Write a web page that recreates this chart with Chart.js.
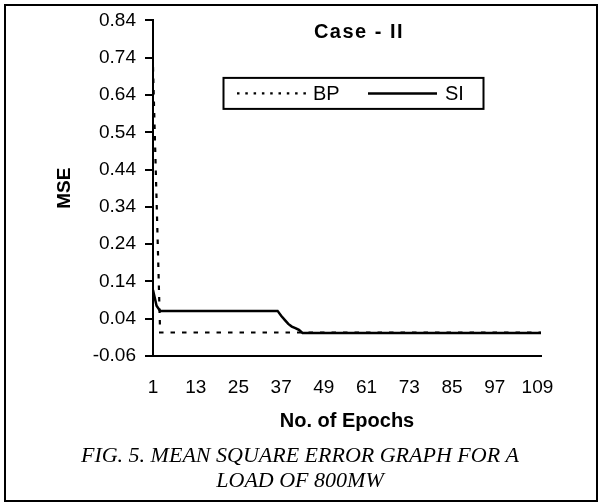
<!DOCTYPE html>
<html>
<head>
<meta charset="utf-8">
<script src="https://cdn.jsdelivr.net/npm/chart.js@4.4.1/dist/chart.umd.min.js"></script>
<style>
html, body { margin: 0; padding: 0; background: #fff; }
#wrap { width: 600px; height: 502px; position: relative; }
</style>
</head>
<body>
<div id="wrap"><canvas id="c" width="600" height="502"></canvas></div>
<script>
// ---- chart texts ----
const chartTitle = 'Case - II';
const xAxisTitle = 'No. of Epochs';
const yAxisTitle = 'MSE';
const captionLines = ['FIG. 5. MEAN SQUARE ERROR GRAPH FOR A', 'LOAD OF 800MW'];
const seriesNames = ['BP', 'SI'];

// ---- data ----
const bpEpochs = [1, 2, 3, 110];
const bpMse    = [0.715, 0.36, 0.003, 0.003];
const siEpochs = [1, 2, 3, 36, 37, 38, 39, 40, 41, 42, 43, 110];
const siMse    = [0.117, 0.075, 0.061, 0.061, 0.048, 0.037, 0.026, 0.019, 0.015, 0.010, 0.002, 0.002];

// ---- tick labels ----
const xTicks = [1, 13, 25, 37, 49, 61, 73, 85, 97, 109];
const yTicks = [-0.06, 0.04, 0.14, 0.24, 0.34, 0.44, 0.54, 0.64, 0.74, 0.84];

const SANS = '"Liberation Sans", Arial, sans-serif';
const SERIF = '"Liberation Serif", "Times New Roman", serif';

const decor = {
  id: 'decor',
  beforeDraw(chart) {
    const c = chart.ctx;
    c.save();
    c.fillStyle = '#fff';
    c.fillRect(0, 0, chart.width, chart.height);
    c.restore();
  },
  afterDraw(chart) {
    const c = chart.ctx;
    const ca = chart.chartArea;
    const ds = chart.data.datasets;
    c.save();
    // outer frame
    c.strokeStyle = '#000';
    c.lineWidth = 2;
    c.setLineDash([]);
    c.strokeRect(5, 5, 592, 496);

    // title
    c.fillStyle = '#000';
    c.font = 'bold 20px ' + SANS;
    c.textAlign = 'center';
    c.textBaseline = 'middle';
    try { c.letterSpacing = '1.5px'; } catch (e) {}
    c.fillText(chartTitle, ca.left + 206, ca.top + 12);
    try { c.letterSpacing = '0px'; } catch (e) {}

    // legend box
    const lx = ca.left + 70, ly = ca.top + 57;
    c.lineWidth = 2;
    c.strokeRect(lx + 0.5, ly + 0.5, 260, 31);
    const my = ly + 16;
    c.font = '20px ' + SANS;
    c.textAlign = 'left';
    // BP sample
    c.beginPath();
    c.lineWidth = ds[0].borderWidth;
    c.setLineDash([2.5, 5.8]);
    c.moveTo(lx + 14, my); c.lineTo(lx + 84, my);
    c.stroke();
    c.setLineDash([]);
    c.fillText(ds[0].label, lx + 90, my + 1);
    // SI sample
    c.beginPath();
    c.lineWidth = ds[1].borderWidth;
    c.moveTo(lx + 145, my); c.lineTo(lx + 214, my);
    c.stroke();
    c.fillText(ds[1].label, lx + 222, my + 1);

    // caption
    c.font = 'italic 22px ' + SERIF;
    c.textAlign = 'center';
    c.textBaseline = 'alphabetic';
    c.fillText(captionLines[0], chart.width / 2, 462);
    c.fillText(captionLines[1], chart.width / 2, 487);
    c.restore();
  }
};

Chart.defaults.font.family = SANS;
Chart.defaults.color = '#000';

new Chart(document.getElementById('c').getContext('2d'), {
  type: 'line',
  data: {
    datasets: [
      {
        label: seriesNames[0],
        data: bpEpochs.map((e, i) => ({ x: e, y: bpMse[i] })),
        borderColor: '#000',
        borderWidth: 2.2,
        borderDash: [4.5, 7],
        pointRadius: 0,
        tension: 0,
        fill: false,
        order: 1
      },
      {
        label: seriesNames[1],
        data: siEpochs.map((e, i) => ({ x: e, y: siMse[i] })),
        borderColor: '#000',
        borderWidth: 2.5,
        pointRadius: 0,
        tension: 0,
        fill: false,
        order: 0
      }
    ]
  },
  options: {
    responsive: false,
    animation: false,
    devicePixelRatio: 1,
    layout: { padding: { left: 0, top: 18, right: 59, bottom: 66 } },
    plugins: {
      legend: { display: false },
      tooltip: { enabled: false },
      title: { display: false }
    },
    scales: {
      x: {
        type: 'linear',
        min: 1,
        max: 110,
        afterBuildTicks: s => { s.ticks = xTicks.map(v => ({ value: v })); },
        afterFit: s => { s.height = 80; },
        grid: { display: true, drawOnChartArea: false, drawTicks: false },
        border: { display: true, color: '#000', width: 2 },
        ticks: { font: { size: 19 }, padding: 20, maxRotation: 0, autoSkip: false, callback: v => String(v) },
        title: { display: true, text: xAxisTitle, font: { size: 20, weight: 'bold' }, padding: { top: 0, bottom: 3 } }
      },
      y: {
        type: 'linear',
        min: -0.06,
        max: 0.84,
        afterBuildTicks: s => { s.ticks = yTicks.map(v => ({ value: v })); },
        afterFit: s => { s.width = 153; },
        grid: { display: true, drawOnChartArea: false, drawTicks: true, tickLength: 8, color: '#000', lineWidth: 2 },
        border: { display: true, color: '#000', width: 2 },
        ticks: { font: { size: 19 }, padding: 9, callback: v => Number(v).toFixed(2) },
        title: { display: true, text: yAxisTitle, font: { size: 19, weight: 'bold' }, padding: { top: 53, bottom: 0 } }
      }
    }
  },
  plugins: [decor]
});
</script>
</body>
</html>
